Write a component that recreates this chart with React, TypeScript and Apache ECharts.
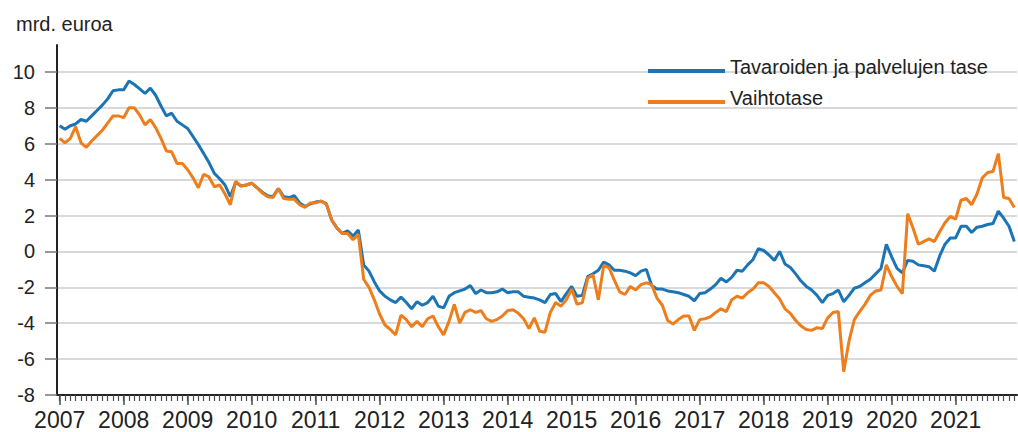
import React, { useEffect, useRef } from "react";
import * as echarts from "echarts";

const years = [2007, 2008, 2009, 2010, 2011, 2012, 2013, 2014, 2015, 2016, 2017, 2018, 2019, 2020, 2021];
const monthNames = ["01", "02", "03", "04", "05", "06", "07", "08", "09", "10", "11", "12"];
const categories: string[] = years.flatMap((y) => monthNames.map((m) => `${y}M${m}`));

const yTicks = [-8, -6, -4, -2, 0, 2, 4, 6, 8, 10];

const seriesNames = ["Tavaroiden ja palvelujen tase", "Vaihtotase"];

// Tavaroiden ja palvelujen tase (mrd. euroa), monthly 2007M01–2021M12
const goodsServices = [
  7.0, 6.8, 7.0, 7.1, 7.35, 7.25, 7.55, 7.85, 8.15, 8.5, 8.95, 9.0,
  9.0, 9.5, 9.3, 9.05, 8.8, 9.1, 8.7, 8.1, 7.55, 7.7, 7.25, 7.05,
  6.85, 6.4, 5.95, 5.45, 4.95, 4.35, 4.05, 3.7, 3.05, 3.85, 3.65, 3.7,
  3.8, 3.55, 3.3, 3.1, 3.05, 3.5, 3.05, 3.0, 3.1, 2.7, 2.5, 2.65,
  2.75, 2.8, 2.65, 1.75, 1.3, 1.0, 1.15, 0.85, 1.2, -0.75, -1.1, -1.7,
  -2.2, -2.5, -2.7, -2.85, -2.55, -2.85, -3.2, -2.8, -3.0, -2.85, -2.5, -3.05,
  -3.15, -2.5, -2.3, -2.2, -2.1, -1.9, -2.35, -2.15, -2.3, -2.3, -2.25, -2.1,
  -2.3, -2.25, -2.25, -2.5, -2.55, -2.6, -2.7, -2.85, -2.4, -2.35, -2.8, -2.35,
  -1.95, -2.5, -2.45, -1.4, -1.25, -1.05, -0.6, -0.75, -1.05, -1.05, -1.1, -1.2,
  -1.35, -1.1, -1.0, -1.9, -2.1, -2.1, -2.2, -2.25, -2.3, -2.4, -2.5, -2.75,
  -2.35, -2.3, -2.1, -1.85, -1.5, -1.7, -1.45, -1.05, -1.1, -0.75, -0.45, 0.15,
  0.05, -0.2, -0.5, 0.0, -0.7, -0.9, -1.25, -1.65, -1.95, -2.15, -2.45, -2.85,
  -2.45, -2.35, -2.15, -2.8, -2.45, -2.05, -1.95, -1.75, -1.55, -1.25, -0.95, 0.4,
  -0.3, -0.95, -1.2, -0.5, -0.55, -0.75, -0.8, -0.85, -1.1, -0.25, 0.4, 0.75,
  0.75, 1.4, 1.4, 1.05, 1.35, 1.4, 1.5, 1.55, 2.25, 1.85, 1.4, 0.55,
];

// Vaihtotase (mrd. euroa), monthly 2007M01–2021M12
const currentAccount = [
  6.3, 6.05, 6.3, 6.95, 6.05, 5.8, 6.15, 6.45, 6.75, 7.15, 7.55, 7.55,
  7.45, 8.0, 8.0, 7.6, 7.05, 7.35, 6.9, 6.3, 5.6, 5.55, 4.9, 4.9,
  4.55, 4.1, 3.55, 4.3, 4.15, 3.6, 3.7, 3.2, 2.6, 3.9, 3.65, 3.7,
  3.8, 3.55, 3.25, 3.05, 3.0, 3.5, 2.95, 2.9, 2.9, 2.6, 2.45, 2.7,
  2.7, 2.8, 2.65, 1.75, 1.3, 1.0, 1.0, 0.65, 0.95, -1.55, -2.0, -2.7,
  -3.5, -4.1, -4.35, -4.65, -3.55, -3.8, -4.2, -3.9, -4.2, -3.75, -3.6, -4.2,
  -4.65, -3.9, -2.95, -4.0, -3.4, -3.25, -3.4, -3.3, -3.75, -3.9, -3.8, -3.6,
  -3.3, -3.25, -3.45, -3.75, -4.3, -3.7, -4.45, -4.5, -3.4, -2.85, -3.05, -2.7,
  -2.1, -2.95, -2.85, -1.5, -1.3, -2.7, -0.8, -0.9, -1.6, -2.25, -2.4, -1.95,
  -2.15, -1.85, -1.75, -1.85, -2.6, -3.0, -3.85, -4.05, -3.8, -3.6, -3.6, -4.4,
  -3.8, -3.75, -3.65, -3.4, -3.2, -3.35, -2.7, -2.5, -2.6, -2.3, -2.1, -1.75,
  -1.75, -1.95, -2.3, -2.65, -3.2, -3.45, -3.85, -4.15, -4.35, -4.4, -4.25, -4.3,
  -3.7, -3.4, -3.35, -6.7, -5.0, -3.8, -3.35, -2.95, -2.45, -2.2, -2.15, -0.75,
  -1.4, -1.95, -2.35, 2.1, 1.3, 0.4, 0.55, 0.7, 0.55, 1.1, 1.6, 1.95,
  1.8, 2.85, 2.95, 2.6, 3.2, 4.1, 4.4, 4.45, 5.45, 3.0, 2.95, 2.45,
];

const BLUE = "#1b74b4";
const ORANGE = "#ee7d1b";
const TEXT = "#222222";
const TICK = "#4d4d4d";
const FONT = "'Liberation Sans', Arial, sans-serif";

export default function App() {
  const ref = useRef<HTMLDivElement>(null);

  useEffect(() => {
    if (!ref.current) return;
    const chart = echarts.init(ref.current, undefined, { renderer: "svg" });
    const gridMain = { left: 57, right: 1, top: 45, bottom: 37, containLabel: false };
    // second grid spans only the labelled range (-8..10) with the same pixel scale
    const gridTicks = { left: 57, right: 1, top: 71.92, bottom: 37, containLabel: false };
    chart.setOption({
      animation: false,
      backgroundColor: "#ffffff",
      textStyle: { fontFamily: FONT },
      title: {
        text: "mrd. euroa",
        left: 11,
        top: 9,
        textStyle: { fontSize: 20, fontWeight: "normal", color: TEXT, fontFamily: FONT },
      },
      legend: {
        orient: "vertical",
        left: 643,
        top: 52,
        icon: "rect",
        itemWidth: 77,
        itemHeight: 4,
        itemGap: 11,
        data: seriesNames,
        formatter: (name: string) => `{a|${name}}`,
        textStyle: {
          fontSize: 20,
          color: TEXT,
          fontFamily: FONT,
          rich: { a: { fontSize: 20, color: TEXT, fontFamily: FONT, padding: [0, 0, 8, 0] } },
        },
      },
      grid: [gridMain, gridTicks],
      xAxis: [
        {
          type: "category",
          gridIndex: 0,
          data: categories,
          boundaryGap: true,
          axisLine: { show: true, onZero: false, lineStyle: { color: TEXT, width: 2 } },
          axisTick: { show: true, alignWithLabel: true, interval: 0, length: 6, lineStyle: { color: TICK, width: 1.2 } },
          axisLabel: {
            interval: (i: number) => i % 12 === 0,
            formatter: (v: string) => v.slice(0, 4),
            fontSize: 23,
            color: TEXT,
            margin: 13,
            fontFamily: FONT,
          },
          splitLine: { show: false },
        },
        {
          type: "category",
          gridIndex: 1,
          data: categories,
          boundaryGap: true,
          axisLine: { show: false, onZero: false },
          axisTick: {
            show: true,
            alignWithLabel: true,
            interval: (i: number) => i % 12 === 0,
            length: 10,
            lineStyle: { color: TICK, width: 1.5 },
          },
          axisLabel: { show: false },
          splitLine: { show: false },
        },
      ],
      yAxis: [
        {
          type: "value",
          gridIndex: 0,
          min: -8,
          max: 11.5,
          interval: 2,
          axisLine: { show: true, lineStyle: { color: TEXT, width: 2 } },
          axisTick: { show: false },
          axisLabel: { fontSize: 20, color: TEXT, margin: 22, customValues: yTicks, fontFamily: FONT },
          splitLine: { show: true, showMaxLine: false, lineStyle: { color: "#d9d9d9", width: 2 } },
        },
        {
          type: "value",
          gridIndex: 1,
          min: -8,
          max: 10,
          interval: 2,
          axisLine: { show: false },
          axisLabel: { show: false },
          splitLine: { show: false },
          axisTick: { show: true, length: 12, lineStyle: { color: "#777777", width: 1.5 } },
        },
      ],
      series: [
        {
          name: seriesNames[0],
          type: "line",
          xAxisIndex: 0,
          yAxisIndex: 0,
          data: goodsServices,
          showSymbol: false,
          symbol: "none",
          lineStyle: { color: BLUE, width: 3 },
          itemStyle: { color: BLUE },
        },
        {
          name: seriesNames[1],
          type: "line",
          xAxisIndex: 0,
          yAxisIndex: 0,
          data: currentAccount,
          showSymbol: false,
          symbol: "none",
          lineStyle: { color: ORANGE, width: 3 },
          itemStyle: { color: ORANGE },
        },
      ],
    });
    return () => chart.dispose();
  }, []);

  return (
    <div
      ref={ref}
      style={{ position: "fixed", left: 0, top: 0, width: 1018, height: 432, background: "#fff" }}
    />
  );
}
